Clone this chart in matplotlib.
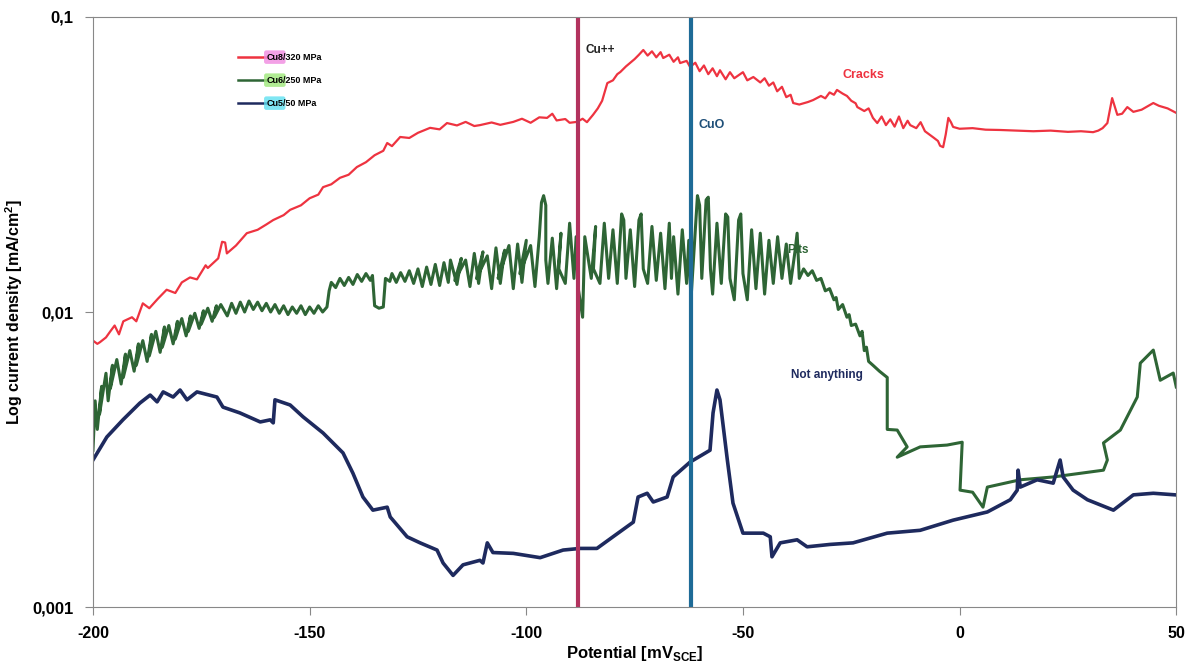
import matplotlib
matplotlib.use("Agg")
import matplotlib.pyplot as plt
from matplotlib.lines import Line2D
from matplotlib.ticker import FixedLocator, NullLocator

# Cu8 / 320 MPa  (potential mV, current density mA/cm2)
red_x = [-200, -199, -198.4, -197, -196, -195, -194, -193, -191, -190, -188.5, -187, -185, -183, -181,
         -179.5, -177.6, -176, -174, -173.5, -171.1, -170.2, -169.5, -169.1, -167, -164.5, -162, -160,
         -158.4, -156, -154.5, -152, -150, -148, -146.9, -145, -143, -141, -139.1, -137, -135, -133,
         -132.1, -131, -129.1, -127, -125, -122.2, -120, -118.3, -116, -114, -112, -110.7, -108, -106,
         -103, -101, -99, -97, -95.2, -94, -93, -91, -90, -88.3, -87, -86, -84.6, -83.5, -82.5, -81.3,
         -80, -79, -78.3, -77, -76, -75, -74, -73, -72, -71, -70, -69, -68.4, -67, -66, -65, -64.5, -63,
         -62.2, -61, -60, -59, -58, -57, -56, -55.3, -54, -53, -52, -50, -49, -47.6, -46, -45, -44, -43,
         -42.1, -41, -40, -39, -38.4, -37, -35, -33.8, -32, -31, -30, -29, -28.3, -27, -26, -25, -24,
         -23.6, -22, -21, -20, -19, -18, -17, -16, -15, -14, -13, -12, -11.4, -10, -9, -8, -7, -6, -5,
         -4.5, -3.8, -3.2, -2.6, -2, -1.5, 0, 3, 6, 9.4, 13, 17, 21, 25, 28, 30.8, 32, 33, 34.1, 35.2,
         36.4, 37.5, 38.7, 40.1, 42, 44.7, 46, 48, 50]
red_y = [0.0080, 0.0078, 0.0079, 0.0082, 0.0086, 0.0090, 0.0084, 0.0093, 0.0096, 0.0093, 0.0107, 0.0103,
         0.0111, 0.0119, 0.0116, 0.0126, 0.0131, 0.0129, 0.0144, 0.0141, 0.0152, 0.0173, 0.0172, 0.0158,
         0.0168, 0.0185, 0.0190, 0.0198, 0.0205, 0.0213, 0.0222, 0.0230, 0.0243, 0.0250, 0.0265, 0.0271,
         0.0285, 0.0292, 0.0310, 0.0322, 0.0340, 0.0352, 0.0374, 0.0365, 0.0392, 0.0389, 0.0405, 0.0421,
         0.0416, 0.0437, 0.0429, 0.0441, 0.0427, 0.0430, 0.0439, 0.0431, 0.0441, 0.0452, 0.0438, 0.0457,
         0.0455, 0.0470, 0.0446, 0.0451, 0.0438, 0.0441, 0.0452, 0.0440, 0.0466, 0.0490, 0.0520, 0.0597,
         0.0610, 0.0640, 0.0651, 0.0680, 0.0700, 0.0720, 0.0745, 0.0773, 0.0740, 0.0765, 0.0730, 0.0760,
         0.0726, 0.0745, 0.0705, 0.0730, 0.0698, 0.0710, 0.0677, 0.0700, 0.0655, 0.0685, 0.0640, 0.0670,
         0.0630, 0.0660, 0.0615, 0.0650, 0.0620, 0.0650, 0.0610, 0.0626, 0.0600, 0.0620, 0.0585, 0.0600,
         0.0560, 0.0580, 0.0535, 0.0545, 0.0511, 0.0505, 0.0515, 0.0523, 0.0540, 0.0530, 0.0555, 0.0545,
         0.0566, 0.0550, 0.0540, 0.0520, 0.0510, 0.0495, 0.0480, 0.0490, 0.0455, 0.0437, 0.0460, 0.0430,
         0.0450, 0.0425, 0.0460, 0.0420, 0.0445, 0.0430, 0.0420, 0.0440, 0.0410, 0.0400, 0.0390, 0.0380,
         0.0366, 0.0362, 0.0400, 0.0455, 0.0440, 0.0424, 0.0418, 0.0420, 0.0415, 0.0414, 0.0412, 0.0410,
         0.0412, 0.0408, 0.0410, 0.0407, 0.0412, 0.0420, 0.0437, 0.0531, 0.0466, 0.0470, 0.0495, 0.0477,
         0.0485, 0.0511, 0.0500, 0.0490, 0.0473]

# Cu6 / 250 MPa (scan goes back and forth, hence repeated / decreasing potentials)
green_x = [-200, -199.5, -199, -198, -198.5, -197, -196.5, -195.5, -196, -194.5, -193.5, -192.5, -193,
           -191.5, -190.5, -189.5, -190, -188.5, -187.5, -186.5, -187, -185.5, -184.5, -183.5, -184,
           -182.5, -181.5, -180.5, -181, -179.5, -178.5, -177.5, -178, -176.5, -175.5, -174.5, -175,
           -173.5, -172.5, -171.5, -172, -170.5, -169, -168, -167, -166, -165, -164, -163, -162, -161,
           -160, -159, -158, -157, -156, -155, -154, -153, -152, -151, -150, -149, -148, -147, -146,
           -145.5, -145, -144, -143, -142, -141, -140, -139, -138, -137, -136, -135.5, -135, -134, -133,
           -132.5, -131.5, -131, -130, -129, -128, -127,
           -126, -125, -124, -123, -122, -121, -120, -119, -118, -117.5, -116, -115, -116.5, -114, -113,
           -112, -111, -110, -111.5, -109, -108, -107, -106, -105, -106.5, -104, -103, -102, -101, -100,
           -101.5, -99, -98, -97, -96.5, -96, -95.5, -95.5, -95, -94, -93, -92, -92.5, -91, -90, -89,
           -88.5, -88, -87, -86.5, -85, -84, -84.5, -83, -82, -81, -80, -79, -78, -77.5, -77, -76, -75,
           -74, -73.5, -73, -72, -71, -70, -69, -68, -67, -66.5, -66, -65, -64, -63, -62.5, -62, -61,
           -60.5, -60, -59.5, -58.5, -58, -57.5, -57, -56, -55, -54, -53.5, -53, -52, -51, -50.5, -50,
           -49, -48, -47, -46, -45, -44, -43, -42, -41, -40, -39, -38, -37.5, -37,
           -36, -35, -34, -33, -32, -31, -30, -29, -28.5, -28, -27, -26, -25.5, -25, -24, -23, -22.5,
           -22, -21.5, -21, -20, -18.5, -16.7, -16.7, -14.4, -12.1, -14.4, -9.1, -2.9, 0.6, 0.1, 3, 5.4,
           6.4, 14.0, 21.6, 33.2, 34.1, 33.2, 37.1, 41.0, 41.7, 44.7, 46.3, 49.3, 50]
green_y = [0.0034, 0.0050, 0.0040, 0.0056, 0.0045, 0.0062, 0.0050, 0.0066, 0.0055, 0.0069, 0.0057, 0.0072,
           0.0060, 0.0074, 0.0063, 0.0078, 0.0066, 0.0080, 0.0068, 0.0084, 0.0071, 0.0086, 0.0073, 0.0089,
           0.0076, 0.0090, 0.0078, 0.0093, 0.0081, 0.0095, 0.0083, 0.0097, 0.0086, 0.0099, 0.0088, 0.0101,
           0.0091, 0.0103, 0.0093, 0.0105, 0.0096, 0.0106, 0.0097, 0.0107, 0.0099, 0.0108, 0.0100, 0.0109,
           0.0102, 0.0108, 0.0101, 0.0107, 0.0100, 0.0106, 0.0099, 0.0105, 0.0098, 0.0104, 0.0099, 0.0105,
           0.0098, 0.0104, 0.0099, 0.0105, 0.0100, 0.0104,
           0.0118, 0.0126, 0.0121, 0.0130, 0.0123, 0.0131, 0.0124, 0.0134, 0.0127, 0.0135, 0.0128, 0.0133,
           0.0105, 0.0103, 0.0104, 0.0130, 0.0127, 0.0135, 0.0126, 0.0136, 0.0127, 0.0138,
           0.0125, 0.0140, 0.0122, 0.0142, 0.0124, 0.0145, 0.0123, 0.0147, 0.0126, 0.0150, 0.0124, 0.0152,
           0.0128, 0.0150, 0.0122, 0.0158, 0.0125, 0.0160, 0.0130, 0.0155, 0.0120, 0.0165, 0.0125, 0.0162,
           0.0130, 0.0168, 0.0120, 0.0170, 0.0126, 0.0175, 0.0135, 0.0168, 0.0122, 0.0180, 0.0235, 0.0248,
           0.0230, 0.0150, 0.0125, 0.0178, 0.0120, 0.0185, 0.0140, 0.0125, 0.0200, 0.0130, 0.0180, 0.0120,
           0.0096, 0.0180, 0.0130, 0.0195, 0.0140, 0.0125, 0.0200, 0.0130, 0.0190, 0.0125, 0.0215, 0.0205,
           0.0130, 0.0190, 0.0122, 0.0205, 0.0215, 0.0140, 0.0125, 0.0195, 0.0128, 0.0185, 0.0120, 0.0200,
           0.0130, 0.0180, 0.0115, 0.0190, 0.0125, 0.0175, 0.0110, 0.0190, 0.0248, 0.0230, 0.0130, 0.0240,
           0.0245, 0.0140, 0.0115, 0.0200, 0.0125, 0.0215, 0.0210, 0.0130, 0.0110, 0.0205, 0.0215, 0.0135,
           0.0110, 0.0190, 0.0120, 0.0185, 0.0115, 0.0175, 0.0125, 0.0180, 0.0130, 0.0170, 0.0125, 0.0160,
           0.0185, 0.0130,
           0.0140, 0.0133, 0.0138, 0.0128, 0.0130, 0.0118, 0.0120, 0.0110, 0.0112, 0.0102, 0.0106, 0.0096,
           0.0098, 0.0090, 0.0091, 0.0083, 0.0086, 0.0074, 0.0076, 0.0068, 0.0066, 0.0063, 0.0060, 0.0040,
           0.00398, 0.00349, 0.00322, 0.00349, 0.00354, 0.00362, 0.00249, 0.00245, 0.00218, 0.00255,
           0.00270, 0.00276, 0.00291, 0.00315, 0.00360, 0.00398, 0.00515, 0.00671, 0.00743, 0.00587,
           0.00621, 0.00557]

# Cu5 / 50 MPa
blue_x = [-200, -196.8, -193.1, -189.2, -186.8, -185.2, -183.8, -181.5, -179.9, -178.3, -176.0, -171.4,
          -170.0, -166.1, -161.4, -159.1, -158.4, -158.0, -154.5, -151.5, -146.9, -142.3, -140.0, -137.7,
          -135.4, -132.1, -131.4, -127.5, -124.5, -120.6, -119.2, -116.9, -114.6, -110.7, -110.0, -109.0,
          -107.7, -103.0, -96.8, -91.5, -87.6, -83.7, -80.0, -75.3, -74.2, -72.1, -70.7, -67.5, -66.1,
          -62.2, -57.6, -56.9, -56.0, -55.3, -53.6, -52.3, -50.0, -45.3, -43.7, -43.3, -41.4, -37.5, -35.2,
          -29.9, -24.6, -16.7, -9.1, -1.5, 6.4, 11.7, 13.3, 13.5, 14.0, 17.9, 21.6, 23.2, 23.9, 26.2,
          29.5, 35.5, 40.1, 44.7, 49.8]
blue_y = [0.00315, 0.00377, 0.00431, 0.00491, 0.00523, 0.00496, 0.00536, 0.00515, 0.00544, 0.00504,
          0.00536, 0.00515, 0.00476, 0.00455, 0.00424, 0.00431, 0.00421, 0.00504, 0.00484, 0.00441,
          0.00389, 0.00333, 0.00284, 0.00236, 0.00213, 0.00218, 0.00202, 0.00173, 0.00165, 0.00156,
          0.00141, 0.00128, 0.00139, 0.00144, 0.00141, 0.00165, 0.00153, 0.00152, 0.00147, 0.00156,
          0.00158, 0.00158, 0.00173, 0.00194, 0.00236, 0.00243, 0.00227, 0.00236, 0.00276, 0.00310,
          0.00340, 0.00455, 0.00544, 0.00504, 0.00315, 0.00225, 0.00178, 0.00178, 0.00173, 0.00148,
          0.00165, 0.00169, 0.00160, 0.00163, 0.00165, 0.00178, 0.00182, 0.00197, 0.00210, 0.00231,
          0.00249, 0.00291, 0.00255, 0.00270, 0.00263, 0.00315, 0.00276, 0.00249, 0.00231, 0.00213,
          0.00240, 0.00243, 0.00240]

cu_pp = -88
cu_o = -62
x_ticks = [-200, -150, -100, -50, 0, 50]
y_ticks = [0.001, 0.01, 0.1]
y_tick_labels = ["0,001", "0,01", "0,1"]

RED = "#ee3340"
GREEN = "#2e6535"
NAVY = "#1e2a5e"

plt.rcParams["font.family"] = ["Liberation Sans", "DejaVu Sans"]

fig = plt.figure(figsize=(11.92, 6.64), dpi=100)
ax = fig.add_axes([0.078, 0.0858, 0.9088, 0.8886])

ax.plot(red_x, red_y, color=RED, lw=1.6)
ax.plot(green_x, green_y, color=GREEN, lw=2.2)
ax.plot(blue_x, blue_y, color=NAVY, lw=2.6)

ax.axvline(cu_pp, color="#b2325e", lw=3)
ax.axvline(cu_o, color="#1e6b97", lw=3)

ax.set_yscale("log")
ax.set_xlim(-200, 50)
ax.set_ylim(0.001, 0.1)
ax.yaxis.set_major_locator(FixedLocator(y_ticks))
ax.yaxis.set_minor_locator(NullLocator())
ax.set_yticklabels(y_tick_labels, fontsize=12, fontweight="bold")
ax.set_xticks(x_ticks)
ax.set_xticklabels([str(t) for t in x_ticks], fontsize=11.5, fontweight="bold")
ax.tick_params(axis="both", direction="out", length=6, color="#888888", pad=8)
for s in ax.spines.values():
    s.set_color("#888888")

ax.set_xlabel("Potential [mV$_{\\mathregular{SCE}}$]", fontsize=12, fontweight="bold", labelpad=2)
ax.set_ylabel("Log current density [mA/cm$^{\\mathregular{2}}$]", fontsize=11.5,
              fontweight="bold", labelpad=5)

ax.text(-86.4, 0.0773, "Cu++", fontsize=8.5, fontweight="bold", color="#222222", va="center")
ax.text(-60.3, 0.0430, "CuO", fontsize=9, fontweight="bold", color="#1e4f78", va="center")
ax.text(-27.1, 0.0636, "Cracks", fontsize=9, fontweight="bold", color=RED, va="center")
ax.text(-38.9, 0.0061, "Not anything", fontsize=8.5, fontweight="bold", color=NAVY, va="center")
ax.text(-39.8, 0.0162, "Pits", fontsize=8.5, fontweight="bold", color=GREEN, va="center")

# hand-drawn style legend with highlighted sample names
legend_rows = [("Cu8", "/320 MPa", RED, "#f08ae0"),
               ("Cu6", "/250 MPa", GREEN, "#9ee87a"),
               ("Cu5", "/50 MPa", NAVY, "#5fe0f0")]
for i, (name, rest, col, hl) in enumerate(legend_rows):
    yy = 0.932 - i * 0.039
    ax.add_line(Line2D([0.134, 0.160], [yy, yy], transform=ax.transAxes, color=col, lw=1.8))
    t1 = ax.text(0.160, yy, name, transform=ax.transAxes, fontsize=6.5, fontweight="bold",
                 va="center", ha="left",
                 bbox=dict(boxstyle="round,pad=0.25", fc=hl, ec="none", alpha=0.8))
    ax.annotate(rest, xy=(1, 0.5), xycoords=t1, xytext=(0, 0), textcoords="offset points",
                fontsize=6.5, fontweight="bold", va="center", ha="left")

fig.savefig("out.png", dpi=100)
